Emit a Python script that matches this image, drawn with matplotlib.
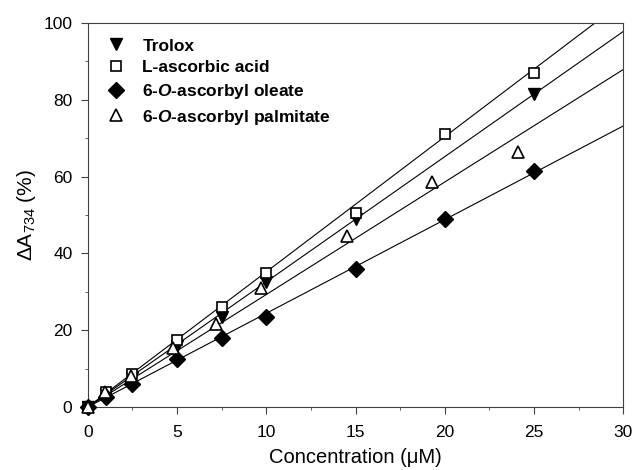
import numpy as np
import matplotlib
matplotlib.use('Agg')
import matplotlib.pyplot as plt
from matplotlib.ticker import MultipleLocator

plt.rcParams['font.family'] = ['Liberation Sans', 'DejaVu Sans']
plt.rcParams['mathtext.fontset'] = 'custom'
plt.rcParams['mathtext.rm'] = 'Liberation Sans'
plt.rcParams['mathtext.it'] = 'Liberation Sans:italic'
plt.rcParams['mathtext.bf'] = 'Liberation Sans:bold'
plt.rcParams['mathtext.bfit'] = 'Liberation Sans:bold:italic'

# podaci procitani sa slike
trolox_x = [0, 1, 2.5, 5, 7.5, 10, 15, 25]
trolox_y = [0, 3.5, 7.5, 16, 23.5, 32.5, 49, 81.5]

askorbinska_x = [0, 1, 2.5, 5, 7.5, 10, 15, 20, 25]
askorbinska_y = [0, 4, 8.5, 17.5, 26, 35, 50.5, 71, 87]

oleat_x = [0, 1, 2.5, 5, 7.5, 10, 15, 20, 25]
oleat_y = [0, 2.5, 6, 12.5, 18, 23.5, 36, 49, 61.5]

palmitat_x = [0, 0.97, 2.4, 4.8, 7.2, 9.7, 14.5, 19.3, 24.1]
palmitat_y = [0, 4, 8, 15.5, 21.5, 31, 44.5, 58.5, 66.5]

# nagibi linija (prolaze kroz nulu)
nagib_trolox = 3.26
nagib_askorbinska = 3.52
nagib_oleat = 2.44
nagib_palmitat = 2.93

fig = plt.figure(figsize=[6.36, 4.70], dpi=100)
ax = fig.add_axes([0.138, 0.134, 0.842, 0.817])

xl = np.array([0, 30])
for nagib in [nagib_askorbinska, nagib_trolox, nagib_palmitat, nagib_oleat]:
    ax.plot(xl, nagib * xl, color='black', linewidth=0.8, zorder=1)

ax.plot(trolox_x, trolox_y, 'v', color='black', markersize=8, linestyle='none',
        label='Trolox', zorder=3, clip_on=False)
ax.plot(askorbinska_x, askorbinska_y, 's', markerfacecolor='white', markeredgecolor='black',
        markeredgewidth=1.2, markersize=7, linestyle='none', label='L-ascorbic acid',
        zorder=3, clip_on=False)
ax.plot(oleat_x, oleat_y, 'D', color='black', markersize=8, linestyle='none',
        label='6-$\\mathbfit{O}$-ascorbyl oleate', zorder=3, clip_on=False)
ax.plot(palmitat_x, palmitat_y, '^', markerfacecolor='white', markeredgecolor='black',
        markeredgewidth=1.2, markersize=8.5, linestyle='none',
        label='6-$\\mathbfit{O}$-ascorbyl palmitate', zorder=3, clip_on=False)

ax.set_xlim(0, 30)
ax.set_ylim(0, 100)
ax.xaxis.set_major_locator(MultipleLocator(5))
ax.xaxis.set_minor_locator(MultipleLocator(2.5))
ax.yaxis.set_major_locator(MultipleLocator(20))
ax.yaxis.set_minor_locator(MultipleLocator(10))
ax.tick_params(which='both', direction='out', top=False, right=False, labelsize=12.5,
               color='0.25')
ax.tick_params(which='major', length=5, pad=6)
ax.tick_params(axis='x', which='major', pad=8)
ax.tick_params(which='minor', length=2.5)
for s in ax.spines.values():
    s.set_color('0.25')

ax.set_xlabel('Concentration (\u03bcM)', fontsize=14.5, labelpad=6)
ax.set_ylabel('\u0394A$_{734}$ (%)', fontsize=15, labelpad=4)

leg = ax.legend(loc='upper left', bbox_to_anchor=(0.024, 0.978), frameon=False,
                prop={'weight': 'bold', 'size': 12.5}, borderaxespad=0,
                handletextpad=1.0, labelspacing=0.38, handlelength=1.0)

plt.savefig('out.png', dpi=100)
